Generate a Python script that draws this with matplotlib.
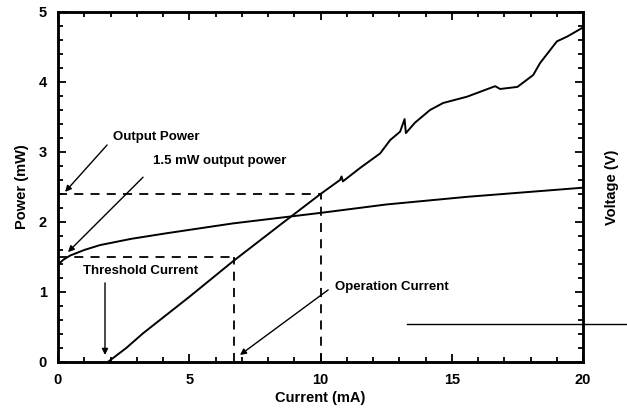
import matplotlib
matplotlib.use("Agg")
import matplotlib.pyplot as plt
from matplotlib.ticker import MultipleLocator

plt.rcParams['font.family'] = ['Liberation Sans', 'DejaVu Sans']

# Data
power_current = [1.9, 2.6, 3.24, 5.0, 6.67, 8.5, 10.0, 10.74, 10.8, 10.85,
                 11.5, 12.27, 12.65, 13.03, 13.2, 13.25, 13.6, 14.17, 14.67, 15.58,
                 16.65, 16.84, 17.5, 18.1, 18.36, 19.0, 19.4, 20.0]
power_mw = [0.0, 0.2, 0.41, 0.93, 1.44, 1.97, 2.40, 2.60, 2.65, 2.58,
            2.77, 2.98, 3.17, 3.29, 3.47, 3.27, 3.42, 3.60, 3.70, 3.79,
            3.94, 3.90, 3.93, 4.10, 4.27, 4.58, 4.65, 4.78]

volt_current = [0.0, 0.2, 0.46, 1.0, 1.6, 2.8, 4.15, 6.67, 10.0, 12.5, 15.6, 20.0]
volt_level = [1.39, 1.46, 1.52, 1.60, 1.67, 1.76, 1.84, 1.98, 2.13, 2.25, 2.36, 2.49]

operation_current = 10.0
operation_power = 2.4
half_current = 6.7
half_power = 1.5
artifact_x = [13.3, 21.7]
artifact_y = [0.54, 0.54]

x_ticks = [0, 5, 10, 15, 20]
y_ticks = [0, 1, 2, 3, 4, 5]

fig = plt.figure(figsize=(6.27, 4.12), dpi=100)
ax = fig.add_axes([0.0925, 0.1214, 0.8375, 0.8495])
ax.set_xlim(0, 20)
ax.set_ylim(0, 5)

ax.plot(power_current, power_mw, color='black', lw=1.4)

ax2 = ax.twinx()
ax2.set_ylim(0, 5)
ax2.plot(volt_current, volt_level, color='black', lw=1.4)

# dashed guide lines
ax.plot([0, operation_current], [operation_power, operation_power], color='black', lw=1.3, dashes=(5, 4))
ax.plot([operation_current, operation_current], [0, operation_power], color='black', lw=1.3, dashes=(5, 4))
ax.plot([0, half_current], [half_power, half_power], color='black', lw=1.3, dashes=(5, 4))
ax.plot([half_current, half_current], [0, half_power], color='black', lw=1.3, dashes=(5, 4))

# scan artifact line
ax.plot(artifact_x, artifact_y, color='black', lw=1.0, clip_on=False)

tfont = dict(fontsize=9.5, fontweight='bold', color='black')
aprops = dict(arrowstyle='-|>', color='black', lw=1.0, mutation_scale=9, shrinkA=0, shrinkB=0)

ax.annotate('', xy=(0.27, 2.43), xytext=(1.87, 3.1), arrowprops=aprops)
ax.text(2.1, 3.22, 'Output Power', ha='left', va='center', **tfont)

ax.annotate('', xy=(0.38, 1.57), xytext=(3.24, 2.64), arrowprops=aprops)
ax.text(3.62, 2.87, '1.5 mW output power', ha='left', va='center', **tfont)

ax.annotate('', xy=(1.79, 0.1), xytext=(1.79, 1.13), arrowprops=aprops)
ax.text(0.95, 1.3, 'Threshold Current', ha='left', va='center', **tfont)

ax.annotate('', xy=(6.93, 0.1), xytext=(10.29, 1.03), arrowprops=aprops)
ax.text(10.55, 1.07, 'Operation Current', ha='left', va='center', **tfont)

# ticks
ax.set_xticks(x_ticks)
ax.set_yticks(y_ticks)
ax.xaxis.set_minor_locator(MultipleLocator(1))
ax.yaxis.set_minor_locator(MultipleLocator(0.2))
ax.tick_params(which='both', direction='in', top=True, right=False, width=1.3)
ax.tick_params(which='major', length=6, labelsize=10.5, pad=8)
ax.tick_params(which='minor', length=3.5)
for lab in ax.get_xticklabels() + ax.get_yticklabels():
    lab.set_fontweight('bold')

ax2.set_yticks(y_ticks)
ax2.yaxis.set_minor_locator(MultipleLocator(0.2))
ax2.tick_params(which='both', direction='in', width=1.3, labelright=False)
ax2.tick_params(which='major', length=6)
ax2.tick_params(which='minor', length=3.5)

for a in (ax, ax2):
    for s in a.spines.values():
        s.set_linewidth(1.8)

ax.set_xlabel('Current (mA)', fontsize=10.5, fontweight='bold', labelpad=3)
ax.set_ylabel('Power (mW)', fontsize=10.5, fontweight='bold', labelpad=7)
ax2.set_ylabel('Voltage (V)', fontsize=10.5, fontweight='bold', labelpad=16)

fig.savefig('out.png', dpi=100)
